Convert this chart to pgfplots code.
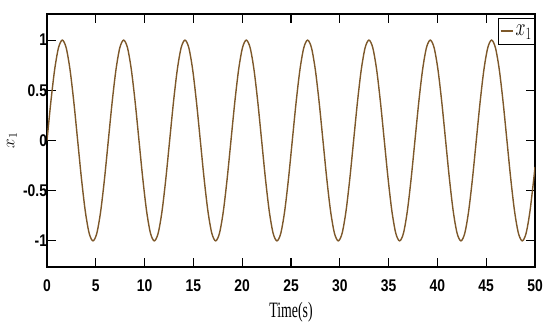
\documentclass[border=0pt]{standalone}
\usepackage{fontspec}
\setmainfont{Liberation Serif}
\newfontfamily\ticksf[FakeStretch=0.82]{Liberation Sans}
\newfontfamily\labf[FakeStretch=0.63]{Liberation Serif}
\usepackage{graphicx}
\usepackage{pgfplots}
\pgfplotsset{compat=1.18}
\definecolor{curve}{RGB}{125,88,42}
\begin{document}
\begin{tikzpicture}
\useasboundingbox (-47bp,-65bp) rectangle (503bp,267bp);
\begin{axis}[
  at={(0,0)}, anchor=south west,
  scale only axis,
  width=488bp, height=253bp,
  xmin=0, xmax=50, ymin=-1.26, ymax=1.26,
  xtick={0,5,...,50},
  ytick={-1,-0.5,0,0.5,1},
  tick align=inside,
  major tick length=9bp,
  axis line style={line width=1.3bp},
  every tick/.style={black, line width=1.1bp},
  /pgf/number format/assume math mode=true,
  ticklabel style={font=\ticksf\bfseries\fontsize{17}{19}\selectfont},
  xticklabel style={yshift=-9bp},
  yticklabel style={xshift=3.5bp},
  xlabel={Time(s)},
  xlabel style={font=\labf\fontsize{22}{24}\selectfont, at={(axis description cs:0.5,0)}, anchor=base, yshift=-50bp},
  ylabel={$x_1$},
  every axis y label/.style={at={(axis description cs:-0.072,0.5)}, rotate=90, anchor=center, font=\fontsize{17}{19}\selectfont},
  legend style={at={(1,0.985)}, anchor=north east, draw=black, line width=0.8bp,
    inner xsep=1bp, inner ysep=5bp, font=\fontsize{24}{26}\selectfont},
  legend image code/.code={\draw[#1, line width=1.8bp] (0bp,0bp) -- (12bp,0bp);},
]
\addplot[curve, line width=1.4bp, smooth] table {
t x
0 0
0.3927 0.3827
0.7854 0.7071
1.1781 0.9239
1.5708 1
1.9635 0.9239
2.3562 0.7071
2.7489 0.3827
3.1416 0
3.5343 -0.3827
3.9270 -0.7071
4.3197 -0.9239
4.7124 -1
5.1051 -0.9239
5.4978 -0.7071
5.8905 -0.3827
6.2832 0
6.6759 0.3827
7.0686 0.7071
7.4613 0.9239
7.8540 1
8.2467 0.9239
8.6394 0.7071
9.0321 0.3827
9.4248 0
9.8175 -0.3827
10.2102 -0.7071
10.6029 -0.9239
10.9956 -1
11.3883 -0.9239
11.7810 -0.7071
12.1737 -0.3827
12.5664 0
12.9591 0.3827
13.3518 0.7071
13.7445 0.9239
14.1372 1
14.5299 0.9239
14.9226 0.7071
15.3153 0.3827
15.7080 0
16.1007 -0.3827
16.4934 -0.7071
16.8861 -0.9239
17.2788 -1
17.6715 -0.9239
18.0642 -0.7071
18.4569 -0.3827
18.8496 0
19.2423 0.3827
19.6350 0.7071
20.0277 0.9239
20.4204 1
20.8131 0.9239
21.2058 0.7071
21.5985 0.3827
21.9911 0
22.3838 -0.3827
22.7765 -0.7071
23.1692 -0.9239
23.5619 -1
23.9546 -0.9239
24.3473 -0.7071
24.7400 -0.3827
25.1327 0
25.5254 0.3827
25.9181 0.7071
26.3108 0.9239
26.7035 1
27.0962 0.9239
27.4889 0.7071
27.8816 0.3827
28.2743 0
28.6670 -0.3827
29.0597 -0.7071
29.4524 -0.9239
29.8451 -1
30.2378 -0.9239
30.6305 -0.7071
31.0232 -0.3827
31.4159 0
31.8086 0.3827
32.2013 0.7071
32.5940 0.9239
32.9867 1
33.3794 0.9239
33.7721 0.7071
34.1648 0.3827
34.5575 0
34.9502 -0.3827
35.3429 -0.7071
35.7356 -0.9239
36.1283 -1
36.5210 -0.9239
36.9137 -0.7071
37.3064 -0.3827
37.6991 0
38.0918 0.3827
38.4845 0.7071
38.8772 0.9239
39.2699 1
39.6626 0.9239
40.0553 0.7071
40.4480 0.3827
40.8407 0
41.2334 -0.3827
41.6261 -0.7071
42.0188 -0.9239
42.4115 -1
42.8042 -0.9239
43.1969 -0.7071
43.5896 -0.3827
43.9823 0
44.3750 0.3827
44.7677 0.7071
45.1604 0.9239
45.5531 1
45.9458 0.9239
46.3385 0.7071
46.7312 0.3827
47.1239 0
47.5166 -0.3827
47.9093 -0.7071
48.3020 -0.9239
48.6947 -1
49.0874 -0.9239
49.4801 -0.7071
49.8728 -0.3827
50 -0.2624
};
\addlegendentry{\scalebox{0.72}[1]{$x_1$}}
\end{axis}
\end{tikzpicture}
\end{document}
